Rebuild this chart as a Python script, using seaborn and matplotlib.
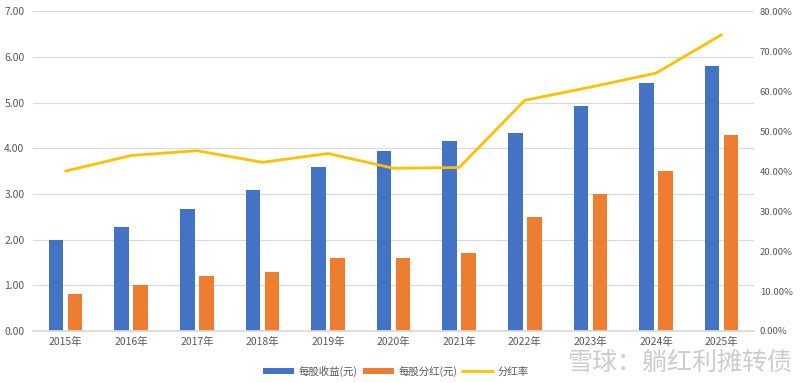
import matplotlib
matplotlib.use("Agg")
import matplotlib.pyplot as plt
import seaborn as sns
import pandas as pd
import numpy as np
from matplotlib.ticker import FuncFormatter, MultipleLocator
from matplotlib.patches import Patch
from matplotlib.lines import Line2D

years = ["2015年", "2016年", "2017年", "2018年", "2019年", "2020年",
         "2021年", "2022年", "2023年", "2024年", "2025年"]
eps = [2.00, 2.28, 2.66, 3.08, 3.60, 3.93, 4.16, 4.33, 4.92, 5.43, 5.80]
dividend = [0.80, 1.00, 1.20, 1.30, 1.60, 1.60, 1.70, 2.50, 3.00, 3.50, 4.30]
payout = [0.400, 0.439, 0.451, 0.422, 0.444, 0.407, 0.409, 0.577, 0.610, 0.645, 0.741]
series_names = ["每股收益(元)", "每股分红(元)", "分红率"]

sns.set_theme(style="white")
plt.rcParams['font.family'] = ['Noto Sans CJK SC', 'DejaVu Sans']

blue = "#4472C4"
orange = "#ED7D31"
gold = "#FFC000"
tick_color = "#595959"
grid_color = "#D9D9D9"

df = pd.DataFrame({
    "year": years * 2,
    "value": eps + dividend,
    "series": [series_names[0]] * len(years) + [series_names[1]] * len(years),
})

fig = plt.figure(figsize=(8.0, 3.83), dpi=100)
ax = fig.add_axes([0.041, 0.1358, 0.902, 0.835])

sns.barplot(data=df, x="year", y="value", hue="series", order=years,
            hue_order=series_names[:2], palette=[blue, orange],
            width=0.58, gap=0.24, dodge=True, legend=False, ax=ax,
            saturation=1, edgecolor="none")

ax.set_ylim(0, 7)
ax.yaxis.set_major_locator(MultipleLocator(1))
ax.yaxis.set_major_formatter(FuncFormatter(lambda v, p: f"{v:.2f}"))
ax.set_xlim(-0.5, len(years) - 0.5)
ax.set_xlabel("")
ax.set_ylabel("")
ax.grid(axis="y", color=grid_color, linewidth=0.8)
ax.set_axisbelow(True)
for s in ["top", "right", "left"]:
    ax.spines[s].set_visible(False)
ax.spines["bottom"].set_color(grid_color)
ax.tick_params(axis="both", length=0, labelsize=7.5, colors=tick_color, pad=4)
ax.tick_params(axis="y", pad=6)

ax2 = ax.twinx()
line_df = pd.DataFrame({"x": np.arange(len(years)), "payout": payout})
sns.lineplot(data=line_df, x="x", y="payout", color=gold, linewidth=2.0, ax=ax2)
ax2.set_ylim(0, 0.8)
ax2.yaxis.set_major_locator(MultipleLocator(0.1))
ax2.yaxis.set_major_formatter(FuncFormatter(lambda v, p: f"{v*100:.2f}%"))
ax2.set_ylabel("")
ax2.set_xlabel("")
for s in ["top", "right", "left", "bottom"]:
    ax2.spines[s].set_visible(False)
ax2.tick_params(axis="y", length=0, labelsize=6.8, colors=tick_color, pad=4)
ax.set_xlim(-0.5, len(years) - 0.5)
ax2.set_xlim(-0.5, len(years) - 0.5)

handles = [Patch(facecolor=blue, edgecolor="none"),
           Patch(facecolor=orange, edgecolor="none"),
           Line2D([0], [0], color=gold, linewidth=2.0)]
fig.legend(handles, series_names, loc="center", bbox_to_anchor=(0.495, 0.031),
           ncol=3, frameon=False, fontsize=7.5, handlelength=3.0, handleheight=0.6,
           columnspacing=0.5, handletextpad=0.4, labelcolor=tick_color)

fig.text(0.99, 0.052, "雪球：躺红利摊转债", ha="right", va="center",
         fontsize=18, color="#9a9a9a", alpha=0.5)

fig.savefig("out.png", dpi=100)
